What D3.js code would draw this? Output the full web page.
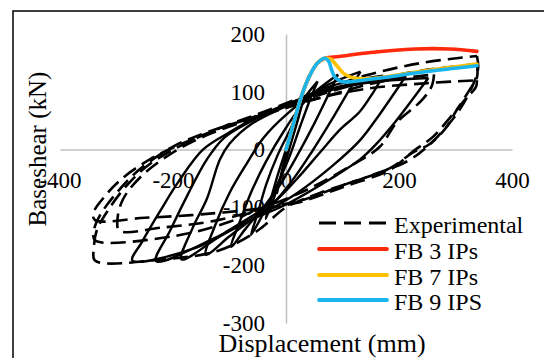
<!DOCTYPE html>
<html>
<head>
<meta charset="utf-8">
<script src="https://cdn.jsdelivr.net/npm/d3@7"></script>
<style>
  html, body { margin: 0; padding: 0; background: #fff; }
  svg { display: block; }
  svg text { font-family: "Times New Roman", "Liberation Serif", "DejaVu Serif", serif; fill: #000; }
</style>
</head>
<body>
<svg id="chart" width="544" height="358"></svg>
<script>
// Axis ticks
const xTicks = [-400, -200, 0, 200, 400];
const yTicks = [-300, -200, -100, 0, 100, 200];

// Experimental hysteresis cycles (displacement mm, base shear kN), dashed
const experimentalCycles = [
  [[262,130],[258,110],[240,85],[196,47],[166,5],[120,-25],[40,-68],[-40,-100],[-120,-122],[-220,-135],[-295,-140],[-298,-118],[-288,-85],[-255,-45],[-200,-5],[-140,25],[-70,50],[0,72],[80,95],[170,118],[262,130]],
  [[338,162],[340,140],[330,110],[308,70],[280,35],[250,5],[215,-20],[150,-45],[60,-75],[0,-100],[-50,-140],[-120,-175],[-220,-190],[-338,-192],[-340,-170],[-335,-140],[-315,-105],[-280,-60],[-241,-25],[-180,10],[-110,40],[-40,65],[40,95],[140,128],[240,150],[338,162]],
  [[338,148],[338,125],[326,105],[300,65],[285,40],[255,10],[225,-5],[184,-32],[100,-62],[20,-90],[-46,-102],[-100,-125],[-200,-150],[-338,-157],[-340,-140],[-330,-115],[-300,-75],[-260,-35],[-200,5],[-140,30],[-60,55],[20,82],[120,112],[230,135],[338,148]],
  [[338,120],[336,108],[320,90],[290,55],[260,22],[225,-3],[184,-35],[100,-65],[20,-92],[-46,-102],[-150,-112],[-250,-118],[-338,-122],[-341,-110],[-320,-80],[-290,-50],[-241,-17],[-180,12],[-110,38],[-40,62],[40,85],[140,105],[250,115],[338,120]]
];

// Cyclic response at smaller amplitudes, solid black
const cyclicTrace = [
  [[15,52],[8,25],[0,-5],[-8,-40],[-16,-75],[-10,-50],[-2,-15],[6,15],[15,52]],
  [[32,92],[22,55],[10,15],[-5,-35],[-20,-80],[-36,-120],[-28,-90],[-15,-45],[0,0],[15,45],[32,92]],
  [[56,118],[42,85],[25,40],[5,-15],[-20,-70],[-40,-110],[-62,-148],[-50,-110],[-35,-60],[-15,-10],[10,40],[30,85],[56,118]],
  [[92,130],[75,95],[50,45],[20,-10],[-10,-60],[-40,-100],[-70,-135],[-97,-168],[-80,-120],[-60,-70],[-35,-20],[-5,30],[35,85],[92,130]],
  [[132,135],[110,100],[80,50],[45,-5],[10,-55],[-25,-95],[-60,-120],[-100,-150],[-142,-182],[-125,-130],[-100,-75],[-70,-25],[-40,20],[0,60],[60,105],[132,135]],
  [[172,128],[155,100],[130,65],[96,35],[60,-5],[20,-50],[-20,-90],[-60,-115],[-110,-145],[-185,-190],[-165,-135],[-140,-85],[-117,-17],[-100,10],[-60,45],[0,75],[80,110],[172,128]],
  [[212,127],[192,98],[165,60],[130,15],[80,-30],[20,-75],[-40,-110],[-120,-150],[-230,-193],[-205,-140],[-175,-80],[-140,-17],[-110,20],[-60,50],[0,78],[90,108],[212,127]],
  [[252,124],[230,95],[195,50],[160,10],[131,-17],[80,-50],[0,-95],[-70,-125],[-160,-170],[-272,-192],[-255,-160],[-225,-110],[-190,-55],[-147,0],[-100,30],[-40,62],[40,92],[140,115],[252,124]]
];

// Force-based model pushover curves
const fb3 = [[0,0],[10,33],[19,65],[30,100],[42,128],[55,149],[69,158],[94,161],[150,168],[228,174],[290,174],[338,170]];
const fb7 = [[0,0],[10,33],[19,65],[30,100],[42,128],[55,149],[69,158],[80,156],[90,145],[103,131],[120,124],[152,123],[250,137],[338,148]];
const fb9 = [[0,0],[10,33],[19,65],[30,100],[42,128],[55,149],[69,158],[76,152],[80,140],[86,126],[95,119],[105,117],[152,122],[250,135],[338,145]];

const seriesNames = ["Experimental", "FB 3 IPs", "FB 7 IPs", "FB 9 IPS"];
const seriesColors = ["#000000", "#FF2A0C", "#FFC000", "#19B5EC"];

const serif = '"Times New Roman", "Liberation Serif", "DejaVu Serif", serif';
const svg = d3.select("#chart");

const x = d3.scaleLinear().domain([-400, 400]).range([60, 512]);
const y = d3.scaleLinear().domain([-300, 200]).range([323, 34]);

// Outer frame
svg.append("rect")
  .attr("x", 13).attr("y", 11).attr("width", 560).attr("height", 380)
  .attr("fill", "none").attr("stroke", "#000").attr("stroke-width", 1.5);

// Axes crossing at the origin
const fmt = d => String(d);
const xAxis = d3.axisBottom(x).tickValues(xTicks).tickFormat(fmt).tickSize(0).tickSizeOuter(0).tickPadding(22);
const yAxis = d3.axisLeft(y).tickValues(yTicks).tickFormat(fmt).tickSize(0).tickSizeOuter(0).tickPadding(21);

const gx = svg.append("g").attr("transform", `translate(0,${y(0)})`).call(xAxis);
const gy = svg.append("g").attr("transform", `translate(${x(0)},0)`).call(yAxis);
[gx, gy].forEach(g => {
  g.attr("font-family", serif).attr("font-size", 23);
  g.select(".domain").attr("stroke", "#BFBFBF").attr("stroke-width", 1.5);
  g.selectAll("text").style("font-family", serif).attr("font-size", 23).attr("fill", "#000");
});

const line = d3.line()
  .x(d => x(d[0]))
  .y(d => y(d[1]))
  .curve(d3.curveCatmullRom.alpha(0.5));

const plot = svg.append("g");

plot.selectAll(".cyc")
  .data(cyclicTrace)
  .join("path")
  .attr("class", "cyc")
  .attr("d", line)
  .attr("fill", "none")
  .attr("stroke", "#000")
  .attr("stroke-width", 2.4)
  .attr("stroke-linejoin", "round");

plot.selectAll(".exp")
  .data(experimentalCycles)
  .join("path")
  .attr("class", "exp")
  .attr("d", line)
  .attr("fill", "none")
  .attr("stroke", "#000")
  .attr("stroke-width", 2.6)
  .attr("stroke-dasharray", "15,7");

const fbSeries = [fb3, fb7, fb9];
plot.selectAll(".fb")
  .data(fbSeries)
  .join("path")
  .attr("class", "fb")
  .attr("d", line)
  .attr("fill", "none")
  .attr("stroke", (d, i) => seriesColors[i + 1])
  .attr("stroke-width", 3.6)
  .attr("stroke-linecap", "round")
  .attr("stroke-linejoin", "round");

// Axis titles
svg.append("text")
  .attr("transform", "translate(46,149) rotate(-90)")
  .attr("text-anchor", "middle")
  .style("font-family", serif)
  .attr("font-size", 25)
  .text("Baseshear (kN)");

svg.append("text")
  .attr("x", 322).attr("y", 352)
  .attr("text-anchor", "middle")
  .style("font-family", serif)
  .attr("font-size", 26)
  .text("Displacement (mm)");

// Legend
const legend = svg.append("g");
const legendY = [223, 249, 275, 300];
seriesNames.forEach((name, i) => {
  const row = legend.append("g").attr("transform", `translate(0,${legendY[i]})`);
  row.append("line")
    .attr("x1", 319).attr("x2", 387).attr("y1", 0).attr("y2", 0)
    .attr("stroke", seriesColors[i])
    .attr("stroke-width", i === 0 ? 2.8 : 3.8)
    .attr("stroke-linecap", i === 0 ? "butt" : "round")
    .attr("stroke-dasharray", i === 0 ? "17,8" : null);
  row.append("text")
    .attr("x", 394).attr("y", 0).attr("dy", "0.42em")
    .style("font-family", serif)
    .attr("font-size", 24)
    .text(name);
});
</script>
</body>
</html>
